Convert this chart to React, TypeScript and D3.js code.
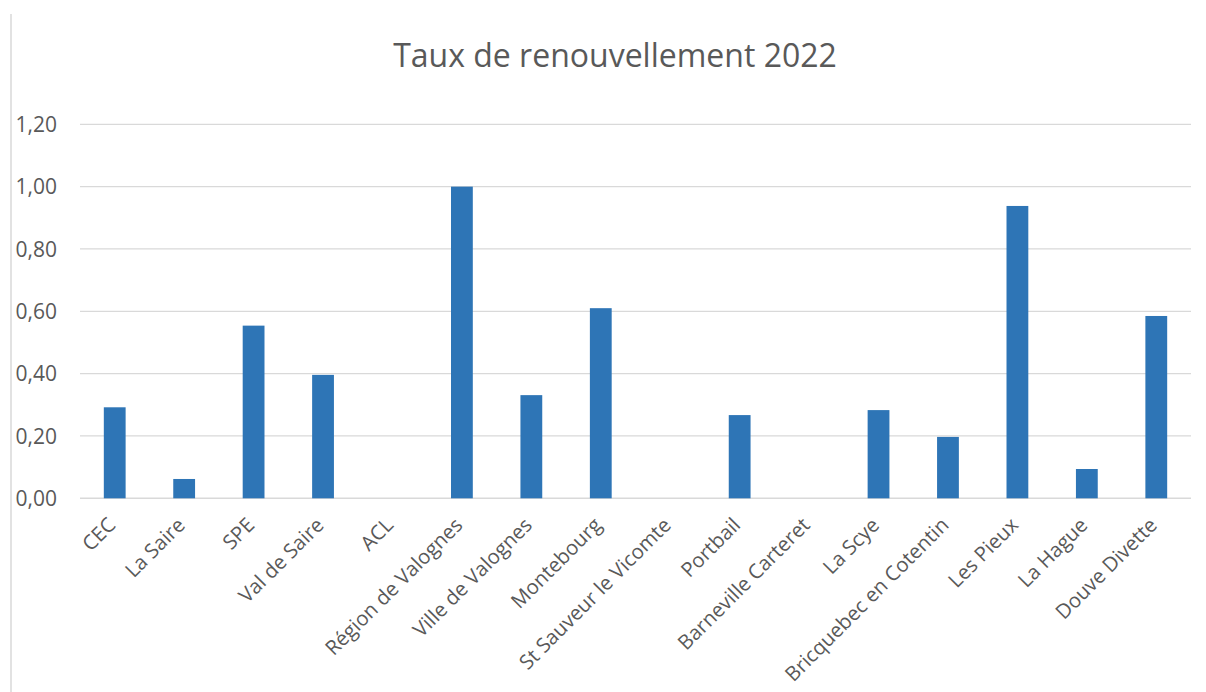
import React, { useEffect, useRef } from 'react';
import * as d3 from 'd3';

const categories = [
  'CEC', 'La Saire', 'SPE', 'Val de Saire', 'ACL', 'Région de Valognes',
  'Ville de Valognes', 'Montebourg', 'St Sauveur le Vicomte', 'Portbail',
  'Barneville Carteret', 'La Scye', 'Bricquebec en Cotentin', 'Les Pieux',
  'La Hague', 'Douve Divette',
];
const values = [
  0.292, 0.062, 0.554, 0.396, 0, 1.0, 0.331, 0.61, 0, 0.267, 0, 0.283, 0.197, 0.938, 0.094, 0.585,
];
const yTicks = [0, 0.2, 0.4, 0.6, 0.8, 1.0, 1.2];
const title = 'Taux de renouvellement 2022';

const W = 1206;
const H = 692;

const App: React.FC = () => {
  const svgRef = useRef<SVGSVGElement>(null);

  useEffect(() => {
    if (!svgRef.current) return;
    const svg = d3.select(svgRef.current);
    svg.selectAll('*').remove();

    const font = '"Open Sans", Calibri, sans-serif';
    const margin = { left: 80, right: 15, top: 124.3, bottom: 193.7 };
    const innerW = W - margin.left - margin.right;
    const innerH = H - margin.top - margin.bottom;

    const x = d3.scaleBand<string>()
      .domain(categories)
      .range([margin.left, margin.left + innerW])
      .paddingInner(0.686)
      .paddingOuter(0.343);

    const y = d3.scaleLinear()
      .domain([0, 1.2])
      .range([margin.top + innerH, margin.top]);

    svg.append('rect').attr('width', W).attr('height', H).attr('fill', '#ffffff');

    // left border of the chart area
    svg.append('line')
      .attr('x1', 11).attr('x2', 11)
      .attr('y1', 14).attr('y2', H)
      .attr('stroke', '#d9d9d9')
      .attr('stroke-width', 1.5);

    // title
    svg.append('text')
      .attr('x', 615)
      .attr('y', 67)
      .attr('text-anchor', 'middle')
      .style('font-family', font)
      .style('font-size', '32px')
      .style('fill', '#595959')
      .text(title);

    // gridlines + y labels
    const fmt = (v: number) => v.toFixed(2).replace('.', ',');
    const grid = svg.append('g');
    grid.selectAll('line')
      .data(yTicks)
      .enter().append('line')
      .attr('x1', margin.left)
      .attr('x2', margin.left + innerW)
      .attr('y1', d => y(d))
      .attr('y2', d => y(d))
      .attr('stroke', '#d9d9d9')
      .attr('stroke-width', d => (d === 0 ? 1.5 : 1.2));

    grid.selectAll('text')
      .data(yTicks)
      .enter().append('text')
      .attr('x', 57)
      .attr('y', d => y(d))
      .attr('dy', '0.36em')
      .attr('text-anchor', 'end')
      .style('font-family', font)
      .style('font-size', '21px')
      .style('fill', '#595959')
      .text(d => fmt(d));

    // bars
    svg.append('g')
      .selectAll('rect')
      .data(values)
      .enter().append('rect')
      .attr('x', (_, i) => x(categories[i])!)
      .attr('width', x.bandwidth())
      .attr('y', d => y(d))
      .attr('height', d => y(0) - y(d))
      .attr('fill', '#2e75b6');

    // x labels
    svg.append('g')
      .selectAll('text')
      .data(categories)
      .enter().append('text')
      .attr('transform', d => `translate(${x(d)! + x.bandwidth() / 2 - 3}, ${y(0) + 23}) rotate(-45)`)
      .attr('text-anchor', 'end')
      .attr('dy', '0.35em')
      .style('font-family', font)
      .style('font-size', '20.3px')
      .style('fill', '#595959')
      .text(d => d);
  }, []);

  return (
    <svg
      ref={svgRef}
      width={W}
      height={H}
      style={{ position: 'absolute', left: 0, top: 0, display: 'block' }}
    />
  );
};

export default App;
